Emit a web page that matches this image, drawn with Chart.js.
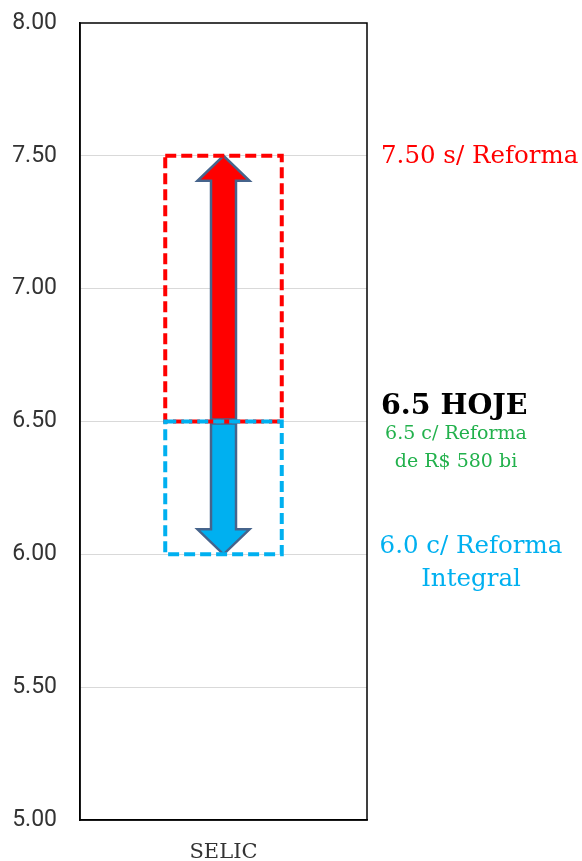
<!DOCTYPE html>
<html>
<head>
<meta charset="utf-8">
<script src="https://cdn.jsdelivr.net/npm/chart.js@4.4.0/dist/chart.umd.min.js"></script>
<style>
  html, body { margin: 0; padding: 0; background: #fff; }
  #caixa { width: 582px; height: 861px; }
</style>
</head>
<body>
<div id="caixa"><canvas id="grafica_selic"></canvas></div>
<script>
/*-----Dados-----*/
const categorias = ['SELIC'];
const selic_hoje = 6.5;
const faixa_sem_reforma = [6.5, 7.5];      // de hoje até o cenário sem reforma
const faixa_reforma_integral = [6.5, 6.0]; // de hoje até o cenário com reforma integral
const ticks_y = [5.0, 5.5, 6.0, 6.5, 7.0, 7.5, 8.0];

const rotulo_sem_reforma = '7.50 s/ Reforma';
const rotulo_hoje = '6.5 HOJE';
const rotulo_parcial = ['6.5 c/ Reforma', 'de R$ 580 bi'];
const rotulo_integral = ['6.0 c/ Reforma', 'Integral'];

const VERMELHO = '#FF0000';
const AZUL = '#00B0F0';
const CONTORNO = '#46648C';
const serifa = '"DejaVu Serif", serif';

/*-----Plugins-----*/

// moldura preta em volta da área do gráfico
const moldura = {
  id: 'moldura',
  afterDraw(chart) {
    const { ctx, chartArea: a } = chart;
    ctx.save();
    ctx.strokeStyle = '#000';
    ctx.lineWidth = 1.5;
    ctx.strokeRect(a.left, a.top, a.right - a.left, a.bottom - a.top);
    ctx.restore();
  }
};

function seta(ctx, x, yIni, yFim, cor) {
  const meiaHaste = 12.5, meiaCabeca = 26, cabeca = 25;
  const dir = yFim < yIni ? -1 : 1;
  const yBase = yFim - dir * cabeca;
  yIni += dir * 2; // pequeno espaço entre as duas setas
  ctx.beginPath();
  ctx.moveTo(x - meiaHaste, yIni);
  ctx.lineTo(x - meiaHaste, yBase);
  ctx.lineTo(x - meiaCabeca, yBase);
  ctx.lineTo(x, yFim);
  ctx.lineTo(x + meiaCabeca, yBase);
  ctx.lineTo(x + meiaHaste, yBase);
  ctx.lineTo(x + meiaHaste, yIni);
  ctx.closePath();
  ctx.fillStyle = cor;
  ctx.fill();
  ctx.lineWidth = 2.5;
  ctx.strokeStyle = CONTORNO;
  ctx.lineJoin = 'miter';
  ctx.stroke();
}

// setas e caixas tracejadas, a partir das barras flutuantes
const faixas = {
  id: 'faixas',
  afterDatasetsDraw(chart) {
    const { ctx, scales: { y } } = chart;
    ctx.save();
    chart.data.datasets.forEach((ds, i) => {
      chart.getDatasetMeta(i).data.forEach((bar, j) => {
        const [ini, fim] = ds.data[j];
        seta(ctx, bar.x, y.getPixelForValue(ini), y.getPixelForValue(fim), ds.corSeta);
      });
    });
    chart.data.datasets.forEach((ds, i) => {
      chart.getDatasetMeta(i).data.forEach((bar, j) => {
        const [ini, fim] = ds.data[j];
        const y1 = y.getPixelForValue(Math.max(ini, fim));
        const y2 = y.getPixelForValue(Math.min(ini, fim));
        ctx.setLineDash([11, 5]);
        ctx.lineWidth = 4;
        ctx.strokeStyle = ds.corSeta;
        ctx.strokeRect(bar.x - bar.width / 2, y1, bar.width, y2 - y1);
      });
    });
    ctx.restore();
  }
};

// textos à direita
const rotulos = {
  id: 'rotulos',
  afterDraw(chart) {
    const { ctx, chartArea: a, scales: { y } } = chart;
    const xEsq = a.right + 14;
    const xCentro = a.right + 104;
    const yHoje = y.getPixelForValue(selic_hoje);
    ctx.save();
    ctx.textBaseline = 'middle';

    ctx.textAlign = 'left';
    ctx.fillStyle = VERMELHO;
    ctx.font = '24.5px ' + serifa;
    ctx.fillText(rotulo_sem_reforma, xEsq, y.getPixelForValue(faixa_sem_reforma[1]) + 1);

    ctx.fillStyle = '#000';
    ctx.font = 'bold 28.5px ' + serifa;
    ctx.fillText(rotulo_hoje, xEsq, yHoje - 15);

    ctx.textAlign = 'center';
    ctx.fillStyle = '#22B14C';
    ctx.font = '19px ' + serifa;
    ctx.fillText(rotulo_parcial[0], xCentro - 15, yHoje + 13);
    ctx.fillText(rotulo_parcial[1], xCentro - 15, yHoje + 41);

    ctx.fillStyle = AZUL;
    ctx.font = '24.5px ' + serifa;
    ctx.fillText(rotulo_integral[0], xCentro, y.getPixelForValue(faixa_reforma_integral[1]) - 8);
    ctx.fillText(rotulo_integral[1], xCentro, y.getPixelForValue(faixa_reforma_integral[1]) + 25);
    ctx.restore();
  }
};

/*-----Gráfica-----*/

const grafica_selic = document.getElementById('grafica_selic');

new Chart(grafica_selic, {
  type: 'bar',
  data: {
    labels: categorias,
    datasets: [{
      label: 's/ Reforma',
      data: [faixa_sem_reforma],
      corSeta: VERMELHO,
      backgroundColor: 'rgba(0,0,0,0)',
      borderWidth: 0,
      grouped: false
    },
    {
      label: 'c/ Reforma Integral',
      data: [faixa_reforma_integral],
      corSeta: AZUL,
      backgroundColor: 'rgba(0,0,0,0)',
      borderWidth: 0,
      grouped: false
    }]
  },
  options: {
    animation: false,
    responsive: true,
    maintainAspectRatio: false,
    barPercentage: 0.406,
    categoryPercentage: 1,
    layout: {
      padding: { left: 0, right: 215, top: 23, bottom: 0 }
    },
    scales: {
      y: {
        min: 5,
        max: 8,
        afterBuildTicks: (axis) => { axis.ticks = ticks_y.map(v => ({ value: v })); },
        afterFit: (axis) => {
          axis.width = 80;
          axis.paddingTop = 0;
          axis.paddingBottom = 0;
        },
        ticks: {
          callback: (v) => Number(v).toFixed(2),
          color: '#333',
          font: { family: 'Roboto', size: 23 },
          padding: 23
        },
        grid: {
          color: (c) => c.tick && c.tick.value === 8 ? 'rgba(0,0,0,0)' : '#D9D9D9',
          drawTicks: false
        },
        border: { color: '#000', width: 1.5 }
      },
      x: {
        afterFit: (axis) => { axis.height = 41; },
        ticks: {
          color: '#333',
          font: { family: 'DejaVu Serif', size: 21 },
          padding: 20
        },
        grid: { display: false, drawTicks: false },
        border: { color: '#000', width: 1.5 }
      }
    },
    plugins: {
      legend: { display: false },
      tooltip: { enabled: false }
    }
  },
  plugins: [faixas, moldura, rotulos]
});
</script>
</body>
</html>
